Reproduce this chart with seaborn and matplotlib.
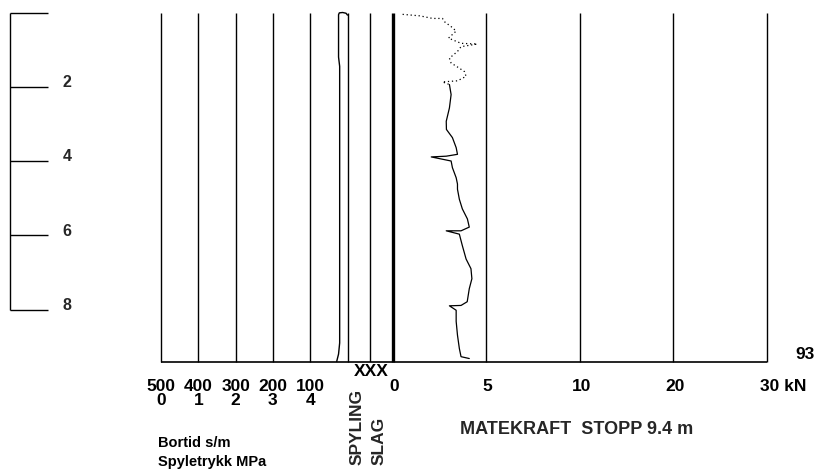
import numpy as np
import pandas as pd
import matplotlib
matplotlib.use("Agg")
import matplotlib.pyplot as plt
import seaborn as sns

# ---------------- data ----------------
depth_max = 9.4
depth_ticks = [0, 2, 4, 6, 8]
depth_labels = ["", "2", "4", "6", "8"]

bortid_ticks = [500, 400, 300, 200, 100, 0]
bortid_labels = ["500", "400", "300", "200", "100", ""]
spyle_labels = ["0", "1", "2", "3", "4", ""]

kn_ticks = [0, 5, 10, 20, 30]
kn_labels = ["0", "5", "10", "20", ""]

# feed force (matekraft) curve, kN vs depth m
force_depth = [0.05, 0.09, 0.16, 0.16, 0.25, 0.38, 0.50, 0.69, 0.83, 0.85, 0.92,
               1.05, 1.23, 1.36, 1.50, 1.59, 1.72, 1.84, 1.87, 1.94,
               2.21, 2.57, 2.93, 3.15, 3.37, 3.64, 3.82, 3.87, 3.89, 4.00,
               4.18, 4.45, 4.62, 4.76, 5.03, 5.29, 5.56, 5.78, 5.88, 5.88,
               5.97, 6.28, 6.64, 6.90, 7.17, 7.44, 7.79, 7.89, 7.90, 8.02,
               8.32, 8.69, 9.05, 9.27, 9.32]
force_kn = [0.54, 1.46, 2.14, 2.67, 2.78, 3.13, 3.40, 2.99, 3.66, 4.52, 3.66,
            3.47, 3.04, 3.13, 3.57, 3.84, 3.93, 3.47, 2.67, 3.04,
            3.13, 3.04, 2.87, 2.88, 3.20, 3.40, 3.47, 2.87, 2.07, 3.13,
            3.20, 3.40, 3.47, 3.47, 3.57, 3.73, 4.00, 4.10, 3.66, 2.87,
            3.57, 3.73, 3.93, 4.19, 4.24, 4.10, 3.99, 3.66, 3.04, 3.40,
            3.40, 3.47, 3.57, 3.66, 4.10]
dotted_until = 20  # first points drawn dotted (sparse trace)

# penetration time (bortid) curve, s/m vs depth m
bortid_depth = [0.07, 0.02, 0.0, 0.01, 0.06, 1.2, 1.45, 8.9, 9.2, 9.4]
bortid_val = [0, 4, 13, 22, 24, 24, 21, 21, 24, 29]

# ---------------- figure ----------------
sns.set_theme(style="white")
plt.rcParams["font.family"] = ["Liberation Sans", "DejaVu Sans"]

W, H = 818, 469
fig = plt.figure(figsize=(W / 100, H / 100), dpi=100)
fig.patch.set_facecolor("white")

TOP, BOT = 12.5, 361.5


def box(x0, x1):
    return [x0 / W, 1 - BOT / H, (x1 - x0) / W, (BOT - TOP) / H]


ax_d = fig.add_axes(box(10, 48))
ax_b = fig.add_axes(box(161, 347.5))
ax_s = fig.add_axes(box(347.5, 392.5))
ax_k = fig.add_axes(box(392.5, 767))

for ax in (ax_d, ax_b, ax_s, ax_k):
    ax.set_ylim(depth_max, 0)
    ax.set_axis_off()
    ax.patch.set_alpha(0)

LC = "black"
TK = dict(fontsize=12.5, fontweight="bold", color="black")

# depth scale on the left
ax_d.set_xlim(0, 1)
ax_d.vlines(0, depth_ticks[0], depth_ticks[-1], color=LC, lw=1.0, clip_on=False)
ax_d.hlines(depth_ticks, 0, 1, color=LC, lw=1.0, clip_on=False)
for d, lab in zip(depth_ticks, depth_labels):
    ax_d.annotate(lab, xy=(1.5, d), xytext=(0, 3), textcoords="offset points",
                  ha="center", va="center", fontsize=11.5, fontweight="bold",
                  annotation_clip=False)

# bortid / spyletrykk panel
ax_b.set_xlim(500, 0)
ax_b.vlines(bortid_ticks, 0, depth_max, color=LC, lw=1.0, clip_on=False)
ax_b.hlines(depth_max, 500, 0, color=LC, lw=1.2, clip_on=False)
sns.lineplot(x=bortid_val, y=bortid_depth, sort=False, estimator=None,
             ax=ax_b, color=LC, lw=1.0, legend=False)
ax_b.set_ylim(depth_max, 0)
ax_b.set_xlim(500, 0)
ax_b.set_axis_off()
for line in ax_b.lines:
    line.set_clip_on(False)
for v, l1, l2 in zip(bortid_ticks, bortid_labels, spyle_labels):
    if not l1:
        continue
    ax_b.annotate(f"{l1}\n{l2}", xy=(v, 0), xycoords=("data", "axes fraction"),
                  xytext=(0, -12.5), textcoords="offset points",
                  ha="center", va="top", multialignment="center",
                  linespacing=0.95, annotation_clip=False, **TK)

# spyling / slag column
ax_s.set_xlim(0, 2)
ax_s.vlines(1, 0, depth_max, color=LC, lw=1.0)
ax_s.hlines(depth_max, 0, 2, color=LC, lw=1.2, clip_on=False)
ax_s.annotate("XXX", xy=(1, 0), xycoords=("data", "axes fraction"),
              xytext=(1, -7), textcoords="offset points",
              ha="center", va="center", annotation_clip=False, **TK)


# matekraft panel with piecewise kN scale
def fwd(x):
    return np.interp(x, kn_ticks, np.arange(len(kn_ticks)))


def inv(y):
    return np.interp(y, np.arange(len(kn_ticks)), kn_ticks)


df = pd.DataFrame({"kN": force_kn, "depth": force_depth})
sns.lineplot(data=df.iloc[:dotted_until], x="kN", y="depth", sort=False,
             estimator=None, ax=ax_k, color=LC, lw=0.9, ls=(0, (1, 2.2)),
             legend=False)
sns.lineplot(data=df.iloc[dotted_until - 1:], x="kN", y="depth", sort=False,
             estimator=None, ax=ax_k, color=LC, lw=0.9, legend=False)
ax_k.set_xscale("function", functions=(fwd, inv))
ax_k.set_xlim(0, 30)
ax_k.set_ylim(depth_max, 0)
ax_k.set_axis_off()
ax_k.vlines(kn_ticks[1:], 0, depth_max, color=LC, lw=1.0, clip_on=False)
ax_k.vlines(0, 0, depth_max, color=LC, lw=2.4, clip_on=False)
ax_k.hlines(depth_max, 0, 30, color=LC, lw=1.2, clip_on=False)
for v, lab in zip(kn_ticks, kn_labels):
    ax_k.annotate(lab, xy=(v, 0), xycoords=("data", "axes fraction"),
                  xytext=(1, -18), textcoords="offset points",
                  ha="center", va="center", annotation_clip=False, **TK)
ax_k.annotate("30 kN", xy=(30, 0), xycoords=("data", "axes fraction"),
              xytext=(-5, -18), textcoords="offset points",
              ha="left", va="center", annotation_clip=False, **TK)
ax_k.annotate("93", xy=(30, 0), xycoords=("data", "axes fraction"),
              xytext=(27, 5), textcoords="offset points",
              ha="center", va="center", annotation_clip=False, **TK)

# captions
CAP = dict(fontsize=10.5, fontweight="bold", color="black")
fig.text(158 / W, 1 - 443 / H, "Bortid s/m", ha="left", va="center", **CAP)
fig.text(158 / W, 1 - 462 / H, "Spyletrykk MPa", ha="left", va="center", **CAP)
fig.text(357.5 / W, 1 - 465 / H, "SPYLING", rotation=90, ha="center", va="bottom",
         fontsize=12.5, fontweight="bold")
fig.text(379.5 / W, 1 - 465 / H, "SLAG", rotation=90, ha="center", va="bottom",
         fontsize=12.5, fontweight="bold")
fig.text(460 / W, 1 - 429 / H, "MATEKRAFT  STOPP 9.4 m", ha="left", va="center",
         fontsize=13, fontweight="bold")

fig.savefig("out.png", dpi=100, facecolor="white")
